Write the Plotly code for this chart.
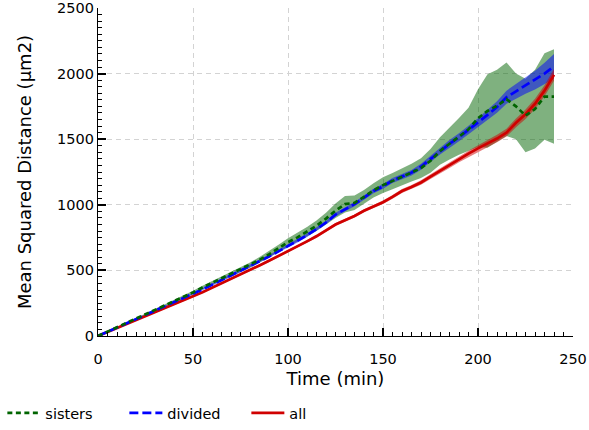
import plotly.graph_objects as go

# ---- data ----
time_min = list(range(0, 245, 5))

sisters_mean = [0, 33, 66, 99, 132, 165, 198, 231, 264, 297,
                332, 370, 405, 440, 472, 505, 540, 580, 622, 668,
                715, 752, 795, 840, 895, 955, 1005, 1015, 1060, 1110, 1150,
                1180, 1210, 1245, 1280, 1335, 1410, 1465, 1522, 1575, 1660,
                1715, 1755, 1805, 1750, 1680, 1730, 1825, 1825]
sisters_err = [0, 3, 4, 5, 6, 7, 8, 9, 10, 11,
               12, 13, 14, 15, 16, 18, 20, 22, 24, 27,
               30, 33, 36, 40, 45, 55, 63, 55, 52, 55, 60,
               62, 65, 68, 75, 90, 105, 120, 140, 165, 220,
               280, 275, 280, 250, 280, 300, 330, 360]

divided_mean = [0, 32, 64, 95, 127, 159, 191, 223, 255, 288,
                320, 355, 390, 425, 460, 496, 532, 568, 606, 645,
                686, 725, 768, 815, 865, 925, 965, 1005, 1055, 1105, 1140,
                1185, 1215, 1245, 1290, 1350, 1410, 1465, 1515, 1570, 1625,
                1685, 1745, 1820, 1865, 1910, 1950, 2000, 2055]
divided_err = [0, 2, 3, 4, 5, 5, 6, 6, 7, 7,
               8, 8, 9, 9, 10, 10, 10, 11, 11, 12,
               12, 13, 13, 14, 14, 15, 15, 16, 16, 17, 18,
               19, 20, 21, 22, 24, 26, 28, 30, 32, 35,
               40, 44, 50, 56, 64, 72, 82, 95]

all_mean = [0, 30, 60, 90, 120, 150, 180, 210, 240, 270,
            302, 334, 367, 400, 433, 468, 503, 538, 573, 609,
            645, 683, 721, 760, 805, 850, 882, 915, 955, 988, 1020,
            1060, 1105, 1135, 1170, 1215, 1260, 1300, 1345, 1390, 1430,
            1465, 1505, 1550, 1625, 1690, 1770, 1870, 1990]
all_err = [0, 2, 3, 4, 4, 5, 5, 5, 6, 6,
           6, 7, 7, 7, 8, 8, 8, 9, 9, 9,
           10, 10, 10, 11, 11, 11, 12, 12, 12, 13, 13,
           14, 15, 16, 17, 18, 19, 20, 21, 22, 24,
           26, 28, 30, 33, 36, 39, 42, 45]

x_tick_step = 50
y_tick_step = 500

series = [
    ("sisters", sisters_mean, sisters_err, "#006400", "rgba(0,100,0,0.5)", "5px,3.5px"),
    ("divided", divided_mean, divided_err, "#0000ff", "rgba(0,0,255,0.5)", "9px,4px"),
    ("all", all_mean, all_err, "#d00000", "rgba(208,0,0,0.5)", "solid"),
]

fig = go.Figure()

# bands first
for name, mean, err, lc, fc, dash in series:
    upper = [m + e for m, e in zip(mean, err)]
    lower = [m - e for m, e in zip(mean, err)]
    fig.add_trace(go.Scatter(
        x=time_min + time_min[::-1], y=upper + lower[::-1],
        fill="toself", fillcolor=fc, line=dict(width=0),
        mode="lines", hoverinfo="skip", showlegend=False))

# lines (sisters on top)
order = [2, 1, 0]
ranks = {0: 1, 1: 2, 2: 3}
for i in order:
    name, mean, err, lc, fc, dash = series[i]
    fig.add_trace(go.Scatter(
        x=time_min, y=mean, mode="lines", name=name,
        line=dict(color=lc, width=2.7, dash=dash),
        legendrank=ranks[i]))

axis_common = dict(
    showline=True, linecolor="black", linewidth=1.3, mirror=False,
    ticks="inside", ticklen=8, tickwidth=1.5, tickcolor="black",
    showgrid=True, gridcolor="#d3d3d3", gridwidth=1.2, griddash="5px,4px",
    zeroline=False, automargin=False, tickmode="linear", tick0=0,
    tickfont=dict(family="DejaVu Sans", size=14.5, color="black"),
)

fig.update_xaxes(
    range=[0, 250], dtick=x_tick_step, ticklabelstandoff=9,
    minor=dict(dtick=5, tick0=0, ticks="inside", ticklen=4, tickcolor="black", tickwidth=1.2, showgrid=False),
    title=dict(text="Time (min)", font=dict(family="DejaVu Sans", size=18, color="black"), standoff=6),
    **axis_common)
fig.update_yaxes(
    range=[0, 2500], dtick=y_tick_step,
    minor=dict(dtick=50, tick0=0, ticks="inside", ticklen=4, tickcolor="black", tickwidth=1.2, showgrid=False),
    title=dict(text="Mean Squared Distance (µm2)", font=dict(family="DejaVu Sans", size=18, color="black"), standoff=20),
    **axis_common)

fig.update_layout(
    width=589, height=430,
    margin=dict(l=98, r=16, t=8, b=94),
    plot_bgcolor="white", paper_bgcolor="white",
    font=dict(family="DejaVu Sans", color="black"),
    legend=dict(orientation="h", xref="container", yref="container",
                x=0.004, y=1 - 413 / 430, xanchor="left", yanchor="middle",
                itemwidth=33, entrywidth=74,
                font=dict(family="DejaVu Sans", size=14.5, color="black"),
                bgcolor="rgba(0,0,0,0)"),
)

fig.write_html("out.html", config={"displayModeBar": False},
               post_script="document.body.style.margin='0';document.body.style.overflow='hidden';")
